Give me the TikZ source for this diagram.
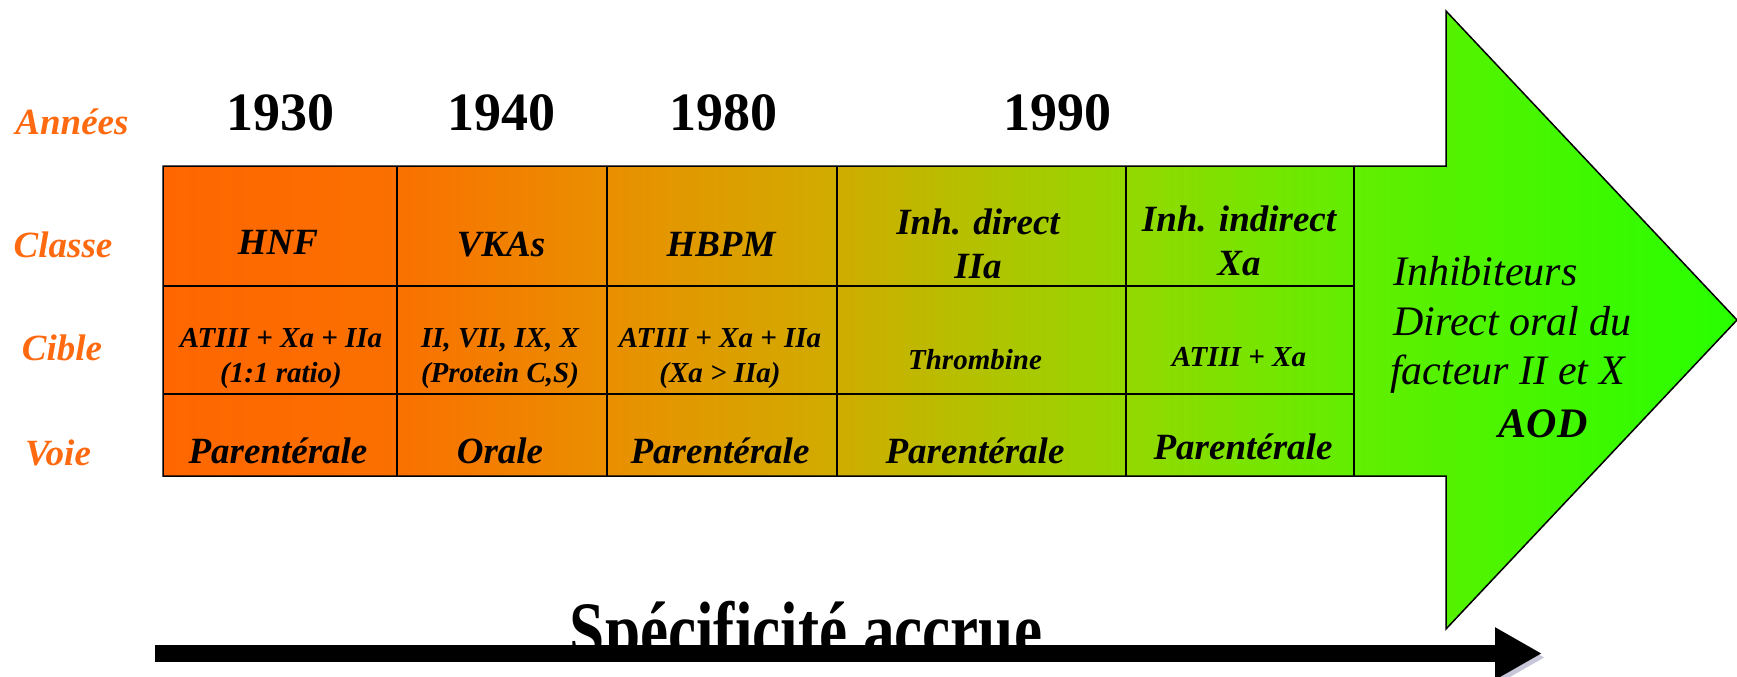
\documentclass[tikz,border=0pt]{standalone}
\usepackage{fontspec}
\setmainfont{Liberation Serif}
\usetikzlibrary{arrows.meta}
\definecolor{labelorange}{RGB}{255,106,16}
\definecolor{gradA}{RGB}{255,102,0}
\definecolor{gradB}{RGB}{250,112,0}
\definecolor{gradC}{RGB}{234,143,0}
\definecolor{gradD}{RGB}{208,172,0}
\definecolor{gradE}{RGB}{148,216,0}
\definecolor{gradF}{RGB}{98,238,0}
\definecolor{gradG}{RGB}{40,255,0}
\definecolor{shadowgray}{RGB}{130,130,170}
% 渐变:橙 -> 绿
\pgfdeclarehorizontalshading{specgrad}{100bp}{color(0bp)=(gradA); color(25bp)=(gradA); color(32.4bp)=(gradB); color(39.1bp)=(gradC); color(46.4bp)=(gradD); color(55.6bp)=(gradE); color(62.8bp)=(gradF); color(75bp)=(gradG); color(100bp)=(gradG)}
\tikzset{
  % 左侧行标题
  rowlab/.style={anchor=base, inner sep=0pt, text=labelorange, font=\fontsize{37}{44}\selectfont\bfseries\itshape},
  % 年份
  yearlab/.style={anchor=base, inner sep=0pt, font=\fontsize{54}{60}\selectfont\bfseries},
  % 表格文字
  cellbig/.style={anchor=base, inner sep=0pt, align=center, font=\fontsize{37}{44}\selectfont\bfseries\itshape},
  cellsmall/.style={anchor=base, inner sep=0pt, align=center, font=\fontsize{29}{35}\selectfont\bfseries\itshape},
  % 箭头内文字
  aodtext/.style={anchor=base west, inner sep=0pt, font=\fontsize{42}{50}\selectfont\itshape},
  gridline/.style={line width=1.5pt, black},
}
\begin{document}
\begin{tikzpicture}[x=1pt, y=-1pt]
    \useasboundingbox (0,0) rectangle (1737,677);

    % 大箭头
    \draw[line width=1.5pt, shade, shading=specgrad]
        (163,166) -- (1446,166) -- (1446,11) -- (1737,320) -- (1446,629) -- (1446,476) -- (163,476) -- cycle;

    % 表格线
    \draw[gridline] (163,286) -- (1354,286) (163,394) -- (1354,394);
    \foreach \x in {397,607,837,1126,1354}
        \draw[gridline] (\x,166) -- (\x,476);

    % 行标题
    \node[rowlab] (annees) at (72,134) {Années};
    \node[rowlab] (classe) at (63,257) {Classe};
    \node[rowlab] (cible) at (62,360) {Cible};
    \node[rowlab] (voie) at (58,465) {Voie};

    % 年份
    \node[yearlab] (y1930) at (280,130) {1930};
    \node[yearlab] (y1940) at (501,130) {1940};
    \node[yearlab] (y1980) at (723,130) {1980};
    \node[yearlab] (y1990) at (1057,130) {1990};

    % Classe
    \node[cellbig] (hnf) at (278,254) {HNF};
    \node[cellbig] (vkas) at (501,256) {VKAs};
    \node[cellbig] (hbpm) at (721,256) {HBPM};
    \node[cellbig] (inhiia) at (978,278) {Inh. direct\\IIa};
    \node[cellbig] (inhxa) at (1239,275) {Inh. indirect\\Xa};

    % Cible
    \node[cellsmall] (cib1) at (281,382) {ATIII + Xa + IIa\\(1:1 ratio)};
    \node[cellsmall] (cib2) at (500,382) {II, VII, IX, X\\(Protein C,S)};
    \node[cellsmall] (cib3) at (720,382) {ATIII + Xa + IIa\\(Xa > IIa)};
    \node[cellsmall] (cib4) at (975,369) {Thrombine};
    \node[cellsmall] (cib5) at (1239,366) {ATIII + Xa};

    % Voie
    \node[cellbig] (voi1) at (278,463) {Parentérale};
    \node[cellbig] (voi2) at (500,463) {Orale};
    \node[cellbig] (voi3) at (720,463) {Parentérale};
    \node[cellbig] (voi4) at (975,463) {Parentérale};
    \node[cellbig] (voi5) at (1243,459) {Parentérale};

    % AOD
    \node[aodtext] (inhib) at (1393,285) {Inhibiteurs};
    \node[aodtext] (dirorl) at (1393,335) {Direct oral du};
    \node[aodtext] (factx) at (1390,384) {facteur II et X};
    \node[anchor=base, inner sep=0pt, font=\fontsize{42}{50}\selectfont\bfseries\itshape] (aod) at (1543,437) {AOD};

    % Spécificité accrue
    \begin{scope}
        \clip (0,0) rectangle (1737,661);
        \node[anchor=base, inner sep=0pt, font=\fontsize{80}{88}\selectfont\bfseries] (spec) at (806,657)
            {\scalebox{0.79}[1]{Spécificité accrue}};
    \end{scope}
    \coordinate (axstart) at (155,653.5);
    \coordinate (axend) at (1542,653.5);
    \draw[line width=17pt, -{Triangle[length=47pt,width=49pt]},
          preaction={draw=shadowgray, opacity=0.45, transform canvas={shift={(3,4)}}}]
        (axstart) -- (axend);
\end{tikzpicture}
\end{document}
